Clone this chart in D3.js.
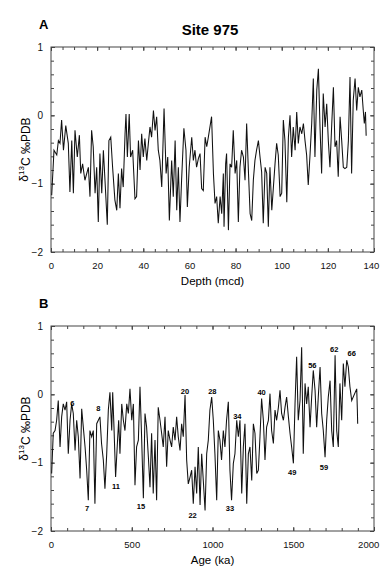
<!DOCTYPE html>
<html>
<head>
<meta charset="utf-8">
<script src="https://cdn.jsdelivr.net/npm/d3@7"></script>
<style>
  body { margin: 0; background: #fff; }
  svg { display: block; font-family: "Liberation Sans", Arial, Helvetica, sans-serif; }
  text { -webkit-font-smoothing: antialiased; }
</style>
</head>
<body>
<div id="chart"></div>
<script>
// panel A : d13C vs depth (mcd)
var depthA = [0.3,1.3,2.5,3.2,3.9,4.6,5.4,6.4,7.5,8.2,9.0,9.7,10.4,11.4,12.3,12.9,13.7,14.7,16.2,16.9,
  17.6,18.3,19.1,19.8,20.5,21.2,22.0,22.7,23.4,24.4,25.1,25.9,26.7,27.7,28.5,29.2,29.9,30.6,31.3,32.1,
  32.5,33.1,33.9,34.5,35.4,36.4,37.1,37.9,38.6,39.3,40.0,40.7,41.5,42.2,42.9,43.6,44.4,45.1,45.8,46.5,
  47.2,48.0,49.0,49.9,50.6,51.3,52.3,53.0,53.8,54.5,55.2,55.9,56.6,57.6,58.5,59.1,59.9,61.0,61.7,62.4,
  63.1,63.9,64.6,65.3,66.0,66.8,67.5,68.2,69.6,70.4,71.1,71.8,72.5,73.3,74.0,74.7,75.0,75.7,76.1,76.9,
  77.6,78.3,79.0,79.8,80.5,81.2,81.9,82.6,83.4,84.1,84.8,85.5,86.3,87.0,87.7,88.4,89.1,89.9,90.6,91.3,
  92.0,92.8,93.5,94.2,94.9,95.7,96.4,97.1,97.8,98.5,99.3,100.0,100.7,101.4,102.2,102.9,103.6,104.3,105.0,105.8,
  106.5,107.2,107.9,108.7,109.4,110.1,110.8,111.5,112.3,113.0,113.7,114.4,115.2,115.9,116.6,117.3,118.0,118.8,119.5,120.2,
  120.9,121.7,122.4,123.1,123.8,124.5,125.3,126.0,126.7,127.4,128.2,128.9,129.6,130.3,131.0,131.8,132.5,133.2,133.9,134.7,
  135.4,135.8,136.3,136.6];
var d13cA = [-1.17,-0.51,-0.58,-0.37,-0.41,-0.07,-0.51,-0.15,-0.41,-1.12,-0.37,-1.14,-0.22,-0.61,-0.29,-0.85,-0.71,-0.95,-0.76,-1.19,
  -0.22,-0.46,-1.14,-0.76,-1.56,-0.56,-1.14,-0.51,-0.95,-1.6,-0.37,-0.32,-0.76,-1.24,-1.39,-0.85,-1.36,-0.78,-1.05,-0.27,
  0.02,-0.61,0.02,-0.61,-0.51,-1.22,-1.19,-0.37,-0.8,-0.27,-0.61,-0.34,-0.66,-0.41,-0.17,-0.32,0.07,-0.22,-0.02,-0.51,
  -0.66,-1.05,0.1,-0.85,-0.61,-1.54,-0.66,-1.19,-0.37,-1.39,-0.76,-1.56,-0.95,-0.19,-0.51,-1.34,-0.76,-0.32,-0.66,-0.51,
  -0.76,-0.63,-0.56,-1.07,-1.1,-0.32,-0.46,-0.32,-0.02,-0.85,-1.29,-1.19,-1.58,-1.19,-1.44,-0.85,-1.63,-0.71,-0.56,-1.68,
  -0.71,-0.76,-0.22,-0.85,-0.66,-1.56,-0.76,-0.51,-0.61,-0.95,-0.12,-0.76,-1.44,-1.54,-0.95,-0.66,-0.51,-0.37,-0.61,-0.83,
  -1.58,-0.76,-0.85,-1.63,-0.76,-1.39,-1.05,-0.71,-0.41,-0.58,-1.19,-1.14,-0.07,-0.37,-1.27,-0.32,0.0,-0.61,-0.17,-0.51,
  0.05,-0.41,-0.17,-0.27,-0.12,-0.37,-0.58,-1.02,-0.56,-0.12,0.54,-0.61,0.37,0.68,-0.17,-0.85,0.32,-0.17,0.17,-0.37,
  -0.76,-0.12,0.41,-0.46,-0.37,-0.9,-0.02,-0.37,-0.76,-0.78,-0.76,-0.37,0.56,-0.85,0.22,0.54,0.07,0.41,0.27,0.37,
  0.05,-0.12,0.05,-0.3];

// panel B : d13C vs age (ka)
var ageB = [4,14,25,35,45,56,66,76,87,97,107,118,128,138,149,159,169,180,190,200,
  211,221,231,241,252,262,272,283,293,303,313,324,334,345,355,365,376,382,390,400,
  411,419,427,438,448,458,469,479,489,500,510,520,530,541,551,561,572,582,592,603,
  613,623,633,644,654,664,675,685,695,706,716,726,737,747,757,768,778,788,799,809,
  819,830,840,850,861,871,881,892,902,912,923,933,943,954,964,974,984,995,1005,1015,
  1026,1036,1046,1056,1067,1077,1087,1098,1108,1118,1129,1139,1150,1160,1170,1181,1191,1201,1212,1222,
  1232,1243,1253,1263,1274,1284,1294,1304,1315,1325,1335,1346,1356,1366,1377,1387,1397,1408,1418,1428,
  1439,1449,1459,1470,1480,1490,1501,1511,1521,1531,1542,1552,1562,1573,1583,1593,1604,1614,1624,1635,
  1645,1655,1666,1676,1686,1697,1707,1717,1728,1738,1748,1759,1769,1779,1789,1800,1810,1820,1831,1841,
  1851,1862,1893,1897,1899];
var d13cB = [-1.16,-0.57,-0.53,-0.38,-0.09,-0.77,-0.33,-0.14,-0.23,-0.11,-0.87,-0.38,-0.14,-0.28,-0.82,-0.38,-0.62,-1.23,-0.21,-0.48,
  -0.77,-1.11,-1.55,-0.53,-0.62,-0.53,-1.6,-0.43,-0.38,-0.33,-0.72,-0.96,-1.38,-0.87,-0.23,0.03,-0.53,0.03,-0.48,-1.21,
  -0.72,-0.38,-0.87,-0.14,-0.38,-0.53,-0.14,-0.28,0.08,-0.38,-0.14,-1.33,-0.77,-0.67,0.11,-0.62,-1.52,-0.28,-0.48,-0.92,
  -1.36,-0.57,-1.45,-0.67,-1.55,-0.19,-0.38,-0.57,-0.77,-0.33,-1.06,-0.53,-0.67,-0.77,-0.48,-0.67,-0.33,-0.62,-0.82,-0.43,
  -0.62,-0.01,-0.96,-1.31,-1.21,-1.11,-1.6,-1.06,-1.45,-0.77,-1.62,-0.87,-1.26,-1.7,-0.87,-0.67,-0.23,-0.04,-0.38,-0.87,
  -1.55,-0.53,-0.67,-0.96,-0.53,-0.77,-0.38,-0.11,-1.11,-1.55,-1.01,-0.87,-0.38,-0.62,-0.38,-1.45,-0.77,-0.43,-1.6,-0.87,
  -0.77,-1.26,-0.43,-0.57,-1.16,-1.11,-0.62,-0.06,-0.38,-0.96,-0.48,-0.38,0.01,-0.53,-0.72,-0.23,-0.38,-0.19,0.06,-0.28,
  -0.38,-0.19,-0.04,-0.33,-0.57,-0.77,-1.01,-0.14,0.55,-0.38,-0.09,0.69,-0.87,0.16,-0.14,0.11,-0.48,-0.04,0.35,0.06,
  -0.48,-0.04,0.4,-0.28,-0.53,-0.92,-0.38,-0.04,0.2,-0.53,-0.77,0.57,-0.53,-0.77,0.16,-0.38,0.45,0.11,0.5,0.4,
  0.11,-0.09,0.08,-0.23,-0.43];

// isotope stage numbers marked on panel B
var stageNums = ["6","7","8","11","15","20","22","28","33","34","40","49","56","59","62","66"];
var stageAges = [132,224,293,402,557,830,877,999,1108,1154,1304,1494,1618,1690,1754,1862];
var stageVals = [-0.13,-1.67,-0.20,-1.34,-1.64,0.05,-1.76,0.05,-1.67,-0.31,0.04,-1.14,0.43,-1.07,0.67,0.60];

var depthTicks = [0,20,40,60,80,100,120,140];
var ageTicks = [0,500,1000,1500,2000];
var yTicks = [-2,-1,0,1];

var W = 392, H = 578;
var margin = {left: 51, right: 18};
var font = '"Liberation Sans", Arial, Helvetica, sans-serif';

var svg = d3.select("#chart").append("svg")
    .attr("width", W)
    .attr("height", H);

function panel(opt){
  var x = d3.scaleLinear().domain(opt.xDomain).range([margin.left, W - margin.right]);
  var y = d3.scaleLinear().domain([-2, 1]).range([opt.bottom, opt.top]);
  var g = svg.append("g");

  // minor ticks, all four sides, pointing in
  var minorX = d3.range(opt.xDomain[0], opt.xDomain[1] + 1e-9, opt.xMinor);
  var minorY = d3.range(-2, 1.0001, 0.2);
  [[d3.axisBottom(x), opt.bottom], [d3.axisTop(x), opt.top]].forEach(function(a){
    g.append("g").attr("transform", "translate(0," + a[1] + ")")
      .call(a[0].tickValues(minorX).tickSize(-3).tickFormat(""))
      .call(function(s){ s.select(".domain").remove(); });
  });
  [[d3.axisLeft(y), margin.left], [d3.axisRight(y), W - margin.right]].forEach(function(a){
    g.append("g").attr("transform", "translate(" + a[1] + ",0)")
      .call(a[0].tickValues(minorY).tickSize(-3).tickFormat(""))
      .call(function(s){ s.select(".domain").remove(); });
  });

  // major ticks + labels
  var xa = g.append("g").attr("transform", "translate(0," + opt.bottom + ")")
    .call(d3.axisBottom(x).tickValues(opt.xTicks).tickSize(-4).tickPadding(10).tickFormat(d3.format("d")));
  xa.select(".domain").remove();
  xa.selectAll("text").style("font-size", "9.5px").style("font-family", font).attr("fill", "#111");
  xa.selectAll(".tick").filter(function(d, i){ return i === opt.xTicks.length - 1; })
    .select("text").attr("text-anchor", "end").attr("dx", "0.5em");

  var xt = g.append("g").attr("transform", "translate(0," + opt.top + ")")
    .call(d3.axisTop(x).tickValues(opt.xTicks).tickSize(-4).tickFormat(""));
  xt.select(".domain").remove();

  var ya = g.append("g").attr("transform", "translate(" + margin.left + ",0)")
    .call(d3.axisLeft(y).tickValues(yTicks).tickSize(-4).tickPadding(8).tickFormat(d3.format("d")));
  ya.select(".domain").remove();
  ya.selectAll("text").style("font-size", "10px").style("font-family", font).attr("fill", "#111");

  var yr = g.append("g").attr("transform", "translate(" + (W - margin.right) + ",0)")
    .call(d3.axisRight(y).tickValues(yTicks).tickSize(-4).tickFormat(""));
  yr.select(".domain").remove();

  g.selectAll(".tick line").attr("stroke", "#444");

  // frame
  g.append("rect")
    .attr("x", margin.left).attr("y", opt.top)
    .attr("width", W - margin.right - margin.left)
    .attr("height", opt.bottom - opt.top)
    .attr("fill", "none").attr("stroke", "#444").attr("stroke-width", 1);

  // data line
  var pts = opt.xs.map(function(d, i){ return [d, opt.ys[i]]; });
  var line = d3.line().x(function(d){ return x(d[0]); }).y(function(d){ return y(d[1]); });
  g.append("path")
    .datum(pts)
    .attr("d", line)
    .attr("fill", "none")
    .attr("stroke", "#111")
    .attr("stroke-width", 1.05);

  // panel letter
  g.append("text").attr("x", 39).attr("y", opt.top - 18)
    .style("font-size", "13px").style("font-weight", "bold").text(opt.letter);

  // axis titles
  g.append("text")
    .attr("x", (margin.left + W - margin.right) / 2)
    .attr("y", opt.bottom + 33)
    .attr("text-anchor", "middle")
    .style("font-size", "11.5px")
    .text(opt.xTitle);

  var yl = g.append("text")
    .attr("transform", "translate(28," + ((opt.top + opt.bottom) / 2) + ") rotate(-90)")
    .attr("text-anchor", "middle")
    .style("font-size", "12px");
  yl.append("tspan").text("δ");
  yl.append("tspan").attr("dy", "-0.45em").style("font-size", "8px").text("13");
  yl.append("tspan").attr("dy", "0.45em").text("C ‰PDB");

  return {x: x, y: y, g: g};
}

svg.append("text")
  .attr("x", 210).attr("y", 35)
  .attr("text-anchor", "middle")
  .style("font-size", "15px").style("font-weight", "bold")
  .text("Site 975");

var pA = panel({top: 47, bottom: 252, xDomain: [0, 140], xMinor: 5, xTicks: depthTicks,
  xs: depthA, ys: d13cA, letter: "A", xTitle: "Depth (mcd)"});

var pB = panel({top: 326, bottom: 531, xDomain: [0, 2000], xMinor: 100, xTicks: ageTicks,
  xs: ageB, ys: d13cB, letter: "B", xTitle: "Age (ka)"});

// stage labels drawn as a slightly transparent group so text gets grey antialiasing
pB.g.append("g").attr("opacity", 0.99)
  .selectAll(".stage")
  .data(stageNums)
  .enter().append("text")
  .attr("class", "stage")
  .attr("x", function(d, i){ return pB.x(stageAges[i]); })
  .attr("y", function(d, i){ return pB.y(stageVals[i]) + 3; })
  .attr("text-anchor", "middle")
  .attr("fill", "#000")
  .style("font-size", "7.5px").style("font-weight", "bold")
  .text(function(d){ return d; });
</script>
</body>
</html>
